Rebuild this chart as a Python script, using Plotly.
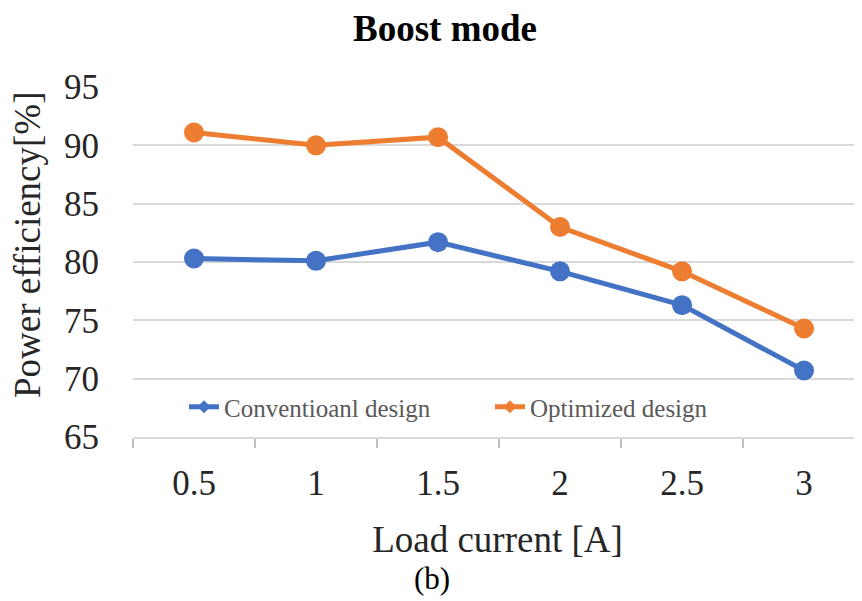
import plotly.graph_objects as go

load_current = ["0.5", "1", "1.5", "2", "2.5", "3"]
conventional = [80.3, 80.1, 81.7, 79.2, 76.3, 70.7]
optimized = [91.1, 90.0, 90.7, 83.0, 79.2, 74.3]
y_ticks = [65, 70, 75, 80, 85, 90, 95]

FONT = "Liberation Serif"
OFF = 8  # browser body margin
W, H = 862 - OFF, 601 - OFF
ML, MR, MT, MB = 133 - OFF, 0, 87 - OFF, 601 - 437
PW, PH = W - ML - MR, H - MT - MB

BLUE, ORANGE = "#4472C4", "#ED7D31"

fig = go.Figure()
fig.add_trace(go.Scatter(
    x=load_current, y=conventional, mode="lines+markers",
    name="Conventioanl design", showlegend=False,
    line=dict(color=BLUE, width=5), marker=dict(color=BLUE, size=20),
))
fig.add_trace(go.Scatter(
    x=load_current, y=optimized, mode="lines+markers",
    name="Optimized design", showlegend=False,
    line=dict(color=ORANGE, width=5), marker=dict(color=ORANGE, size=20),
))
# legend entries with smaller sample markers
fig.add_trace(go.Scatter(
    x=[None], y=[None], mode="lines+markers", name="Conventioanl design",
    line=dict(color=BLUE, width=5), marker=dict(color=BLUE, size=10, symbol="diamond"),
))
fig.add_trace(go.Scatter(
    x=[None], y=[None], mode="lines+markers", name="Optimized design",
    line=dict(color=ORANGE, width=5), marker=dict(color=ORANGE, size=10, symbol="diamond"),
))

fig.update_layout(
    width=W, height=H,
    margin=dict(l=ML, r=MR, t=MT, b=MB, pad=0),
    paper_bgcolor="white", plot_bgcolor="white",
    font=dict(family=FONT, color="#262626"),
    title=dict(text="<b>Boost mode</b>", x=(445 - OFF) / W, xanchor="center",
               y=1 - (28 - OFF) / H, yanchor="middle",
               font=dict(family=FONT, size=37, color="#000000")),
    showlegend=True,
    legend=dict(orientation="h", x=(184 - 133) / PW, xanchor="left",
                y=(437 - 407) / PH, yanchor="middle",
                font=dict(family=FONT, size=25, color="#595959"),
                bgcolor="rgba(0,0,0,0)", entrywidth=261, entrywidthmode="pixels"),
    xaxis=dict(
        type="category", range=[-0.5, 5.475],
        showgrid=False, showline=True, linecolor="#D9D9D9", linewidth=2,
        ticks="outside", tickson="boundaries", ticklen=9, tickcolor="#BFBFBF", tickwidth=2,
        tickfont=dict(family=FONT, size=35, color="#262626"),
        ticklabelstandoff=14,
        title=dict(text="Load current [A]", standoff=24,
                   font=dict(family=FONT, size=37, color="#262626")),
        zeroline=False, fixedrange=True,
    ),
    yaxis=dict(
        range=[65, 95], tickvals=y_ticks,
        showgrid=True, gridcolor="#D9D9D9", gridwidth=2,
        showline=False, zeroline=False, ticks="",
        tickfont=dict(family=FONT, size=35, color="#262626"),
        ticklabelstandoff=33,
        fixedrange=True,
    ),
    annotations=[
        dict(text="Power efficiency[%]", xref="paper", yref="paper",
             x=(27 - 133) / PW, y=(437 - 245) / PH, textangle=-90,
             xanchor="center", yanchor="middle", showarrow=False,
             font=dict(family=FONT, size=37, color="#262626")),
        dict(text="(b)", xref="paper", yref="paper",
             x=(432 - 133) / PW, y=-(578 - 437) / PH,
             xanchor="center", yanchor="middle", showarrow=False,
             font=dict(family=FONT, size=31, color="#000000")),
    ],
)

fig.write_html("out.html")
